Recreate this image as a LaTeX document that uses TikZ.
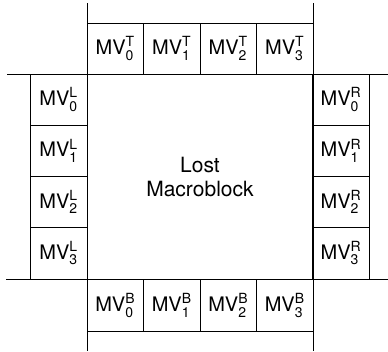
\documentclass[tikz,border=0pt]{standalone}
\usepackage{amsmath}
\usepackage{fontspec}
\setmainfont{TeX Gyre Heros}
\usepackage{tikz}
\usetikzlibrary{positioning}

\newcommand{\mvlabel}[2]{MV$^{\text{#1}}_{\text{#2}}$}

\begin{document}
\begin{tikzpicture}[x=1pt, y=-1pt, line width=0.7pt,
    cell/.style={draw, rectangle, inner sep=0pt, minimum width=56.5pt, minimum height=51.2pt,
                 font=\fontsize{20}{24}\selectfont},
    sidecell/.style={cell, minimum width=57pt, minimum height=51.25pt}]
            \useasboundingbox (0,0) rectangle (388,351);

            % Lost macroblock
            \node[draw, rectangle, inner sep=0pt, minimum width=226pt, minimum height=205pt,
                  align=center, font=\fontsize{21}{24}\selectfont] (lost) at (200,176.5) {Lost\\Macroblock};

            % Extended edges
            \coordinate (w1) at (7,74);
            \coordinate (e1) at (388,74);
            \coordinate (w2) at (6,279);
            \coordinate (e2) at (388,279);
            \coordinate (n1) at (87,3);
            \coordinate (s1) at (87,351);
            \coordinate (n2) at (313,3);
            \coordinate (s2) at (313,351);
            \draw (w1) -- (e1);
            \draw (w2) -- (e2);
            \draw (n1) -- (s1);
            \draw (n2) -- (s2);

            % Neighbouring motion vectors
            \foreach \i in {0,...,3} {
                \node[cell] (top\i) at (87+56.5*\i+28.25, 48.5) {\mvlabel{T}{\i}};
                \node[cell] (bot\i) at (87+56.5*\i+28.25, 305.4) {\mvlabel{B}{\i}};
                \node[sidecell] (left\i) at (58.5, 74+51.25*\i+25.6) {\mvlabel{L}{\i}};
                \node[sidecell] (right\i) at (341, 74+51.25*\i+25.6) {\mvlabel{R}{\i}};
            }
        \end{tikzpicture}
\end{document}
